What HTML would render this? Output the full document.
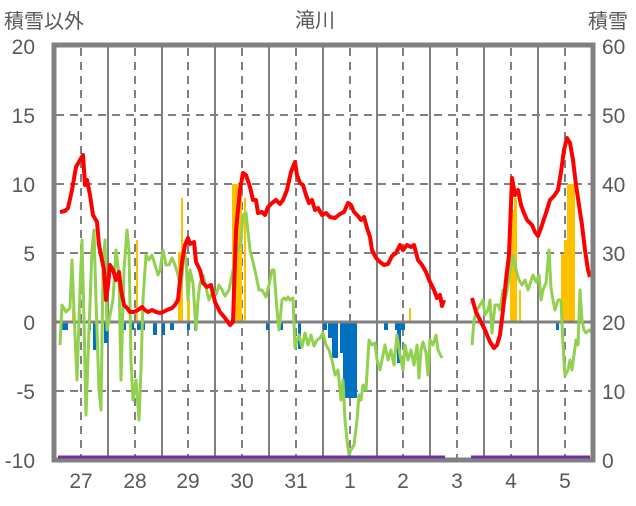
<!DOCTYPE html>
<html><head><meta charset="utf-8"><style>
body{margin:0;background:#fff;}
svg text{font-family:"Liberation Sans","Noto Sans CJK JP",sans-serif;fill:#595959;}
</style></head><body>
<svg width="636" height="501" viewBox="0 0 636 501" xmlns="http://www.w3.org/2000/svg">
<rect width="636" height="501" fill="#fff"/>
<g stroke="#808080" stroke-width="2" stroke-dasharray="8,6">
<line x1="56" y1="115" x2="592" y2="115"/>
<line x1="56" y1="184" x2="592" y2="184"/>
<line x1="56" y1="253" x2="592" y2="253"/>
<line x1="56" y1="391" x2="592" y2="391"/>
</g>
<g stroke="#808080" stroke-width="2">
<line x1="108" y1="46" x2="108" y2="460"/><line x1="162" y1="46" x2="162" y2="460"/>
<line x1="215" y1="46" x2="215" y2="460"/><line x1="269" y1="46" x2="269" y2="460"/>
<line x1="323" y1="46" x2="323" y2="460"/><line x1="377" y1="46" x2="377" y2="460"/>
<line x1="430" y1="46" x2="430" y2="460"/><line x1="484" y1="46" x2="484" y2="460"/>
<line x1="538" y1="46" x2="538" y2="460"/>
</g>
<g stroke="#808080" stroke-width="2" stroke-dasharray="8,6">
<line x1="81" y1="48" x2="81" y2="460"/><line x1="135" y1="48" x2="135" y2="460"/>
<line x1="188" y1="48" x2="188" y2="460"/><line x1="242" y1="48" x2="242" y2="460"/>
<line x1="296" y1="48" x2="296" y2="460"/><line x1="350" y1="48" x2="350" y2="460"/>
<line x1="403" y1="48" x2="403" y2="460"/><line x1="457" y1="48" x2="457" y2="460"/>
<line x1="511" y1="48" x2="511" y2="460"/><line x1="565" y1="48" x2="565" y2="460"/>
</g>
<g fill="#FFC000">
<rect x="72" y="308" width="3" height="14"/><rect x="136" y="240" width="2" height="82"/>
<rect x="178" y="252" width="5" height="70"/><rect x="181" y="198" width="2" height="124"/>
<rect x="187" y="300" width="3" height="22"/>
<rect x="232" y="184" width="7" height="138"/><rect x="239" y="184" width="3" height="138"/>
<rect x="244" y="198" width="2" height="124"/>
<rect x="409" y="308" width="2" height="14"/>
<rect x="510" y="210" width="4" height="112"/><rect x="514" y="198" width="3" height="124"/><rect x="519" y="290" width="2" height="32"/>
<rect x="561" y="254" width="3" height="68"/><rect x="567" y="184" width="8" height="138"/><rect x="564" y="240" width="3" height="82"/>
</g>
<g fill="#0070C0">
<rect x="60" y="323" width="8" height="7"/><rect x="88" y="323" width="3" height="7"/><rect x="93" y="323" width="3" height="27"/>
<rect x="104" y="323" width="4" height="20"/><rect x="123" y="323" width="3" height="7"/><rect x="130" y="323" width="4" height="7"/>
<rect x="137" y="323" width="8" height="7"/><rect x="153" y="323" width="4" height="12"/><rect x="162" y="323" width="3" height="12"/>
<rect x="170" y="323" width="4" height="7"/><rect x="187" y="323" width="3" height="7"/><rect x="194" y="323" width="3" height="7"/>
<rect x="266" y="323" width="3" height="7"/><rect x="280" y="323" width="3" height="7"/><rect x="298" y="323" width="3" height="26"/>
<rect x="323" y="323" width="4" height="7"/><rect x="328" y="323" width="8" height="15"/><rect x="332" y="323" width="6" height="35"/>
<rect x="340" y="323" width="10" height="30"/><rect x="343" y="323" width="6" height="75"/><rect x="349" y="323" width="8" height="75"/><rect x="352" y="323" width="5" height="60"/>
<rect x="384" y="323" width="4" height="7"/><rect x="395" y="323" width="10" height="7"/><rect x="397" y="323" width="4" height="40"/>
<rect x="556" y="323" width="3" height="7"/>
</g>
<line x1="56" y1="322" x2="592" y2="322" stroke="#808080" stroke-width="3"/>
<polyline fill="none" stroke="#92D050" stroke-width="3" stroke-linejoin="round" points="60,345 62,305 66,312 70,308 72,260 75,335 77,380 80,290 82,240 84,320 86,415 89,330 92,250 94,230 96,300 99,390 101,410 103,270 105,240 107,330 110,315 113,300 116,250 119,275 121,380 124,270 127,230 129,250 131,360 133,400 136,380 139,420 141,370 143,300 146,255 149,260 152,255 155,265 158,275 160,270 163,250 166,265 169,265 172,258 175,265 178,275 181,290 184,250 186,260 188,300 190,270 193,283 196,330 198,300 200,283 203,275 206,288 209,300 213,290 216,295 219,285 222,290 225,296 229,290 232,275 235,260 238,250 241,242 243,215 246,213 248,232 250,250 253,262 256,275 259,290 262,290 266,297 269,285 272,270 274,270 277,310 279,330 282,300 284,298 286,300 288,297 290,300 293,298 295,348 297,340 299,335 302,347 305,333 308,345 311,335 314,346 317,340 320,338 323,333 326,345 329,350 332,360 335,375 338,370 341,400 343,380 345,420 347,440 349,455 351,450 354,445 357,420 359,395 361,400 363,385 366,390 369,340 372,345 375,343 377,360 380,370 383,355 385,345 388,360 391,350 394,365 397,335 400,355 403,370 405,345 408,360 411,350 414,365 417,345 419,378 421,350 423,342 426,353 428,375 430,340 433,345 436,335 438,350 440,354 442,358"/>
<polyline fill="none" stroke="#92D050" stroke-width="3" stroke-linejoin="round" points="472,345 474,320 477,310 480,305 483,300 485,315 488,310 490,300 492,333 495,305 498,305 500,310 503,290 505,300 508,285 510,270 513,255 516,270 519,280 522,285 525,280 528,290 530,284 533,275 536,282 539,275 541,300 543,290 546,283 549,250 551,288 553,300 555,310 558,300 561,300 563,345 565,376 568,370 570,360 572,370 574,355 576,340 578,345 580,290 582,320 584,330 586,333 589,330 591,332"/>
<polyline fill="none" stroke="#FF0000" stroke-width="4" stroke-linejoin="round" points="60,212 65,211 68,208 72,190 76,167 80,160 83,155 85,185 87,180 90,195 93,215 97,222 99,245 102,260 104,270 106,300 108,285 110,265 113,270 116,280 119,272 121,290 124,305 127,308 130,312 134,312 138,310 142,307 145,310 148,312 152,310 156,312 160,313 163,312 167,310 172,308 175,305 178,300 182,262 185,245 188,238 190,244 194,242 196,262 200,270 203,283 207,287 211,285 215,302 220,312 225,318 230,325 233,322 236,230 240,190 243,173 246,175 250,187 253,200 256,200 258,213 262,212 265,215 268,207 272,203 276,200 280,204 283,200 287,190 291,172 295,162 297,175 300,183 303,185 306,195 309,203 312,200 315,210 318,208 322,215 326,213 330,217 335,218 340,214 344,212 348,203 351,205 354,212 358,216 361,220 364,217 367,228 370,237 372,250 376,258 380,262 384,265 388,264 392,256 396,253 400,245 403,250 407,245 411,247 414,245 418,260 422,265 426,272 430,282 434,290 437,298 440,295 442,306 444,300"/>
<polyline fill="none" stroke="#FF0000" stroke-width="4" stroke-linejoin="round" points="472,298 476,312 480,320 485,330 490,342 494,348 497,345 500,335 503,310 506,280 509,255 512,178 515,195 518,190 521,205 524,213 527,220 532,225 535,232 538,236 541,228 546,213 550,200 554,196 558,190 561,172 564,150 567,138 570,143 573,160 576,185 579,205 582,225 585,250 588,270 590,277"/>
<rect x="54" y="45" width="539" height="415" fill="none" stroke="#808080" stroke-width="5"/>
<line x1="58" y1="457" x2="445" y2="457" stroke="#7030A0" stroke-width="3"/>
<line x1="471" y1="457" x2="590" y2="457" stroke="#7030A0" stroke-width="3"/>
<g font-size="20">
<text x="4" y="28">積雪以外</text>
<text x="315" y="27" text-anchor="middle">滝川</text>
<text x="588" y="28">積雪</text>
</g>
<g font-size="21" text-anchor="end">
<text x="35" y="54">20</text><text x="35" y="123">15</text><text x="35" y="192">10</text>
<text x="35" y="261">5</text><text x="35" y="330">0</text><text x="35" y="399">-5</text><text x="35" y="468">-10</text>
</g>
<g font-size="21">
<text x="602" y="54">60</text><text x="602" y="123">50</text><text x="602" y="192">40</text>
<text x="602" y="261">30</text><text x="602" y="330">20</text><text x="602" y="399">10</text><text x="602" y="468">0</text>
</g>
<g font-size="21" text-anchor="middle">
<text x="81" y="488">27</text><text x="135" y="488">28</text><text x="188" y="488">29</text><text x="242" y="488">30</text>
<text x="296" y="488">31</text><text x="350" y="488">1</text><text x="403" y="488">2</text><text x="457" y="488">3</text>
<text x="511" y="488">4</text><text x="565" y="488">5</text>
</g>
</svg>
</body></html>
